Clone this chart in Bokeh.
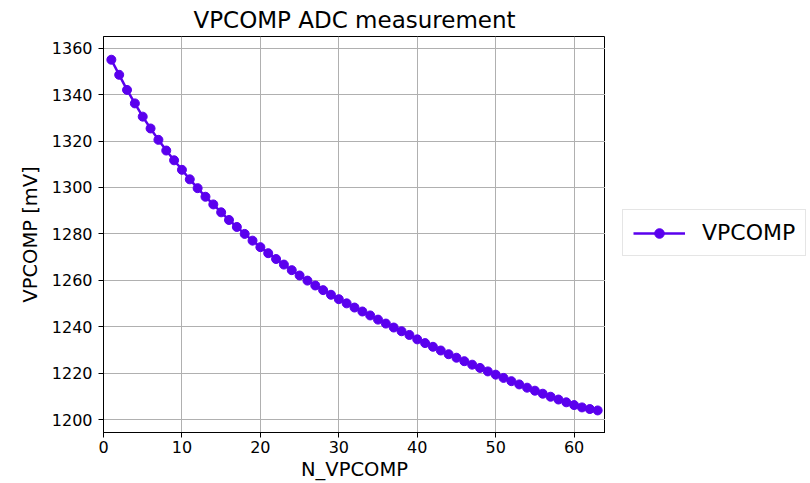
from bokeh.plotting import figure
from bokeh.layouts import row
from bokeh.models import Legend, LegendItem, FixedTicker, Range1d
from bokeh.embed import file_html
from bokeh.resources import INLINE

# ---- data ----
n_vpcomp = list(range(1, 64))
vpcomp_mv = [
    1355.0, 1348.5, 1342.0, 1336.2, 1330.5, 1325.4, 1320.5, 1315.9, 1311.7, 1307.6,
    1303.5, 1299.7, 1296.0, 1292.7, 1289.3, 1286.0, 1283.0, 1280.0, 1277.1, 1274.3,
    1271.7, 1269.2, 1266.8, 1264.4, 1262.1, 1259.9, 1257.8, 1255.8, 1253.8, 1251.9,
    1250.1, 1248.3, 1246.6, 1244.9, 1243.1, 1241.4, 1239.7, 1238.1, 1236.5, 1234.6,
    1233.0, 1231.4, 1229.8, 1228.2, 1226.7, 1225.2, 1223.7, 1222.3, 1220.8, 1219.4,
    1218.0, 1216.6, 1215.2, 1213.8, 1212.5, 1211.2, 1209.9, 1208.7, 1207.5, 1206.3,
    1205.3, 1204.6, 1204.0,
]
x_ticks = [0, 10, 20, 30, 40, 50, 60]
y_ticks = [1200, 1220, 1240, 1260, 1280, 1300, 1320, 1340, 1360]
series_name = "VPCOMP"

FONT = "DejaVu Sans"
COLOR = "#5a00ee"

p = figure(
    frame_width=502, frame_height=396,
    output_backend="svg", toolbar_location=None,
    x_range=Range1d(0, 64), y_range=Range1d(1194.5, 1365.0),
    min_border_left=103, min_border_top=36, min_border_bottom=47,
    min_border_right=0,
    title="VPCOMP ADC measurement",
)

p.title.align = "center"
p.title.text_font = FONT
p.title.text_font_size = "23px"
p.title.text_font_style = "normal"
p.title.text_color = "black"
p.title.standoff = 8

p.outline_line_color = "black"
p.outline_line_width = 1
p.outline_line_alpha = 1.0

for ax in (p.xaxis[0], p.yaxis[0]):
    ax.axis_line_color = "black"
    ax.major_tick_line_color = "black"
    ax.major_tick_out = 5
    ax.major_tick_in = 0
    ax.minor_tick_line_color = None
    ax.major_label_text_font = FONT
    ax.major_label_text_font_size = "16px"
    ax.major_label_text_color = "black"
    ax.axis_label_text_font = FONT
    ax.axis_label_text_font_size = "19.5px"
    ax.axis_label_text_font_style = "normal"
    ax.axis_label_text_color = "black"
    ax.major_label_standoff = 3
    ax.axis_label_standoff = 2

p.yaxis[0].major_label_standoff = 6
p.yaxis[0].axis_label_standoff = 7

p.xaxis[0].ticker = FixedTicker(ticks=x_ticks)
p.yaxis[0].ticker = FixedTicker(ticks=y_ticks)
p.xaxis.axis_label = "N_VPCOMP"
p.yaxis.axis_label = "VPCOMP [mV]"

p.xgrid.ticker = FixedTicker(ticks=x_ticks)
p.ygrid.ticker = FixedTicker(ticks=y_ticks)
p.grid.grid_line_color = "#b0b0b0"
p.grid.grid_line_width = 1

p.line(n_vpcomp, vpcomp_mv, line_color=COLOR, line_width=2.5)
p.scatter(n_vpcomp, vpcomp_mv, marker="circle", size=9,
          fill_color=COLOR, line_color=COLOR)

# legend panel to the right of the axes (its renderers lie outside its view range,
# they only provide the legend swatch)
p2 = figure(width=205, height=483, output_backend="svg", toolbar_location=None,
            min_border=0, x_range=Range1d(-20, -10), y_range=Range1d(0, 1))
p2.axis.visible = False
p2.grid.visible = False
p2.outline_line_color = None
ln2 = p2.line(n_vpcomp, vpcomp_mv, line_color=COLOR, line_width=2.5)
sc2 = p2.scatter(n_vpcomp, vpcomp_mv, marker="circle", size=9,
                 fill_color=COLOR, line_color=COLOR)

legend = Legend(items=[LegendItem(label=series_name, renderers=[ln2, sc2])],
                location=(17, 176))
legend.label_text_font = FONT
legend.label_text_font_size = "22px"
legend.label_text_color = "black"
legend.glyph_width = 52
legend.glyph_height = 24
legend.label_standoff = 17
legend.padding = 10
legend.margin = 0
legend.border_line_color = "#cccccc"
legend.border_line_width = 1
legend.background_fill_alpha = 0.8
p2.add_layout(legend, "center")

layout = row(p, p2, spacing=0)
open("out.html", "w").write(file_html(layout, INLINE))
